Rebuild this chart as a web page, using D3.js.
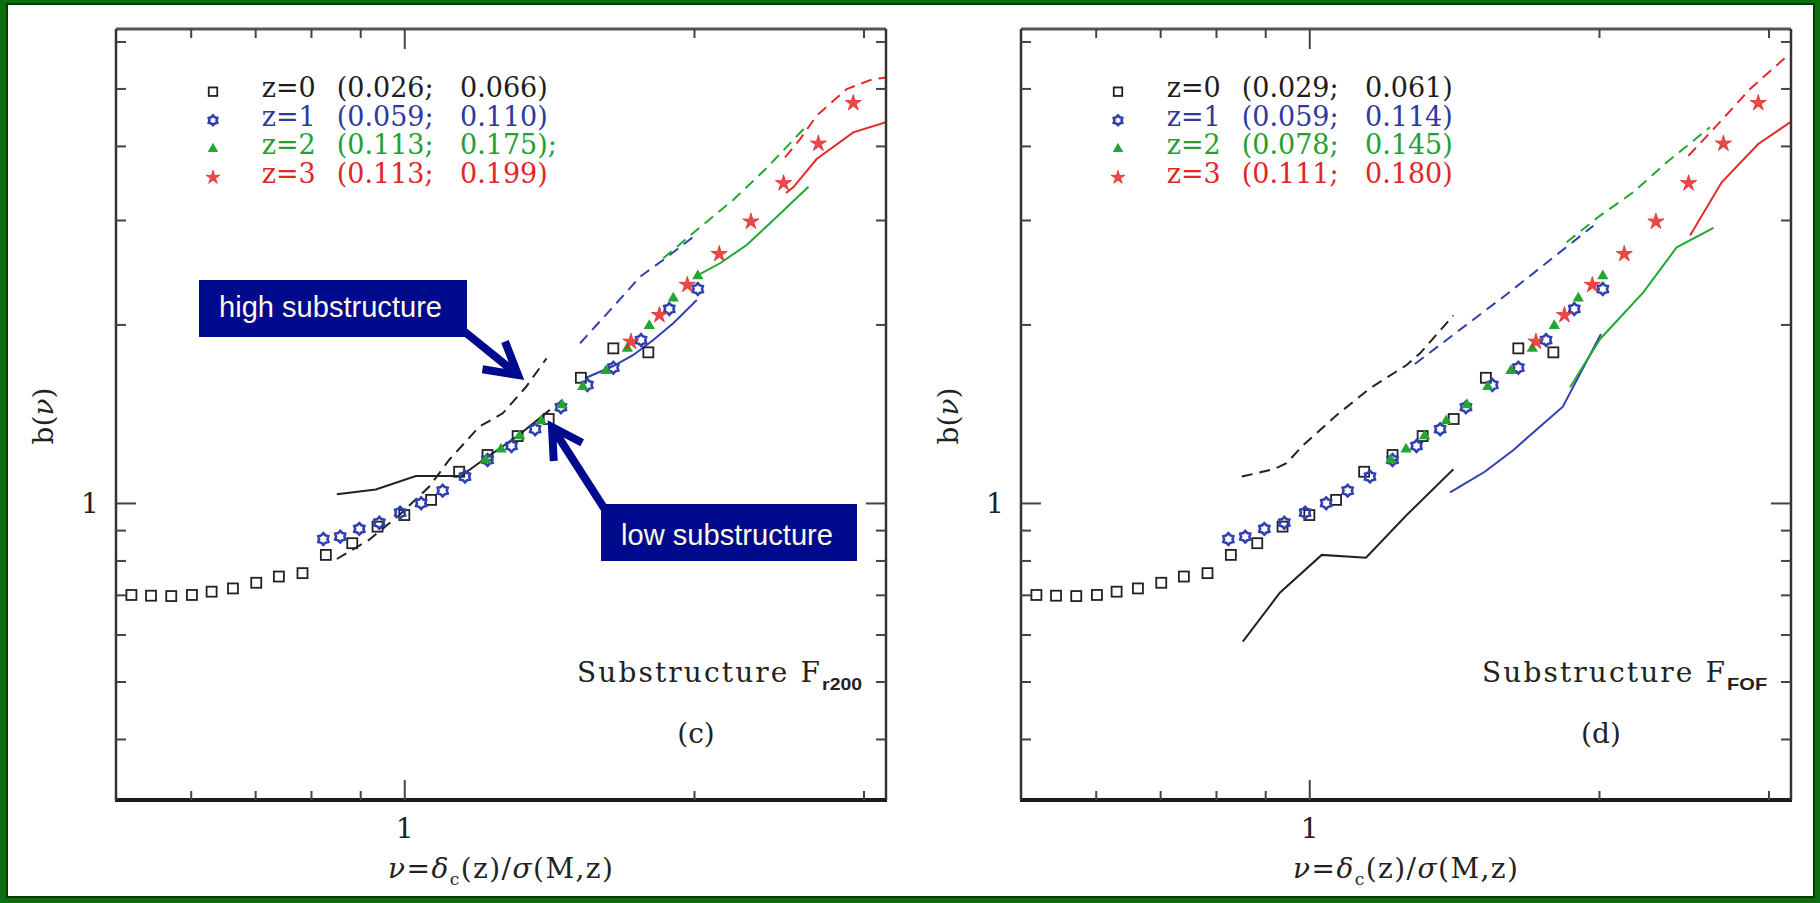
<!DOCTYPE html>
<html><head><meta charset="utf-8">
<script src="https://cdn.jsdelivr.net/npm/d3@7"></script>
<style>
html,body{margin:0;padding:0;background:#0d6e0d;}
svg{display:block;}
</style></head><body>
<svg id="fig" width="1820" height="903"></svg>
<script>
// ---- halo bias points (shared by both panels) ----
const nuZ0 = [0.520,0.545,0.572,0.601,0.630,0.663,0.701,0.740,0.783,0.828,0.882,0.937,0.999,1.065,1.139,1.219,1.310,1.411,1.524,1.647,1.791];
const bZ0  = [0.701,0.699,0.698,0.701,0.710,0.719,0.735,0.753,0.763,0.819,0.857,0.914,0.956,1.014,1.131,1.207,1.299,1.388,1.629,1.826,1.798];
const nuZ1 = [0.823,0.857,0.897,0.941,0.989,1.040,1.095,1.155,1.219,1.291,1.366,1.453,1.548,1.647,1.760,1.883,2.016];
const bZ1  = [0.871,0.879,0.906,0.928,0.965,1.001,1.051,1.110,1.184,1.250,1.334,1.453,1.584,1.694,1.886,2.128,2.299];
const nuZ2 = [1.214,1.259,1.316,1.386,1.457,1.531,1.618,1.703,1.795,1.901,2.016];
const bZ2  = [1.184,1.234,1.299,1.377,1.466,1.573,1.674,1.826,1.994,2.218,2.418];
const nuZ3 = [1.718,1.839,1.966,2.122,2.289,2.475,2.690,2.924];
const bZ3  = [1.874,2.078,2.336,2.634,2.987,3.467,4.043,4.733];

// ---- panel (c): substructure F_r200, high (dashed) / low (solid) ----
const cHighZ0Nu = [0.850,0.918,0.987,1.060,1.112,1.195,1.264,1.337,1.404];
const cHighZ0B  = [0.806,0.868,0.956,1.067,1.184,1.347,1.419,1.573,1.757];
const cLowZ0Nu  = [0.850,0.933,1.027,1.144,1.206,1.307,1.415];
const cLowZ0B   = [1.036,1.056,1.112,1.112,1.184,1.296,1.438];
const cHighZ1Nu = [1.521,1.647,1.756,1.856,2.016];
const cHighZ1B  = [1.863,2.147,2.412,2.574,2.854];
const cLowZ1Nu  = [1.539,1.647,1.728,1.812,1.901,2.011];
const cLowZ1B   = [1.626,1.705,1.780,1.886,2.013,2.203];
const cHighZ2Nu = [1.856,2.011,2.194,2.377,2.616];
const cHighZ2B  = [2.591,2.891,3.249,3.678,4.335];
const cLowZ2Nu  = [2.003,2.126,2.266,2.396,2.627];
const cLowZ2B   = [2.412,2.541,2.728,2.968,3.420];
const cHighZ3Nu = [2.484,2.575,2.679,2.879,3.068,3.162];
const cHighZ3B  = [3.834,4.116,4.506,4.998,5.196,5.226];
const cLowZ3Nu  = [2.489,2.533,2.679,2.924,3.162];
const cLowZ3B   = [3.338,3.413,3.808,4.224,4.392];

// ---- panel (d): substructure F_FOF ----
const dHighZ0Nu = [0.850,0.917,0.946,0.985,1.067,1.155,1.261,1.302,1.410];
const dHighZ0B  = [1.110,1.142,1.169,1.255,1.410,1.564,1.712,1.791,2.076];
const dLowZ0Nu  = [0.852,0.931,1.029,1.144,1.261,1.410];
const dLowZ0B   = [0.585,0.707,0.819,0.810,0.956,1.142];
const dHighZ1Nu = [1.286,1.600,1.971];
const dHighZ1B  = [1.719,2.249,2.940];
const dLowZ1Nu  = [1.399,1.520,1.628,1.832,2.007];
const dLowZ1B   = [1.044,1.131,1.231,1.456,1.931];
const dHighZ2Nu = [1.849,2.003,2.168,2.349,2.605];
const dHighZ2B  = [2.757,3.057,3.347,3.760,4.309];
const dLowZ2Nu  = [1.864,2.003,2.221,2.406,2.627];
const dLowZ2B   = [1.570,1.894,2.270,2.704,2.914];
const dHighZ3Nu = [2.474,2.647,2.867,3.151];
const dHighZ3B  = [3.858,4.335,4.998,5.726];
const dLowZ3Nu  = [2.484,2.679,2.924,3.155];
const dLowZ3B   = [2.829,3.479,4.037,4.392];

// ---- legend text ----
const zLabels  = ["z=0","z=1","z=2","z=3"];
const legendC1 = ["(0.026;","(0.059;","(0.113;","(0.113;"];
const legendC2 = ["0.066)","0.110)","0.175);","0.199)"];
const legendD1 = ["(0.029;","(0.059;","(0.078;","(0.111;"];
const legendD2 = ["0.061)","0.114)","0.145)","0.180)"];

// ---- ticks ----
const xMinorTicks = [0.6,0.7,0.8,0.9,2,3];
const xMajorTicks = [1];
const yMinorTicks = [0.4,0.5,0.6,0.7,0.8,0.9,2,3,4,5,6];
const yMajorTicks = [1];

const zColors    = ["#222222","#3140b0","#22a832","#e42a2a"];
const textColors = ["#1e1e1e","#2e3aa0","#23a033","#e22626"];
const serif = "'DejaVu Serif', serif";

const svg = d3.select("#fig");

// page frame
svg.append("rect").attr("x",0).attr("y",0).attr("width",1820).attr("height",903).attr("fill","#0d6e0d");
svg.append("rect").attr("x",7).attr("y",4).attr("width",1807).attr("height",893)
   .attr("fill","#ffffff").attr("stroke","#063a06").attr("stroke-width",2);

const PT = 29, PB = 800, PW = 770;

// star-shaped outline: n points, outer radius r, inner radius r*k
function starPath(n, r, k){
  const pts = [];
  for(let i=0;i<2*n;i++){
    const a = Math.PI/n*i - Math.PI/2;
    const rr = i%2===0 ? r : r*k;
    pts.push([rr*Math.cos(a), rr*Math.sin(a)]);
  }
  return d3.line()(pts)+"Z";
}

function drawMarker(sel, z, size){
  if(z===0){
    sel.append("rect").attr("x",-size/2).attr("y",-size/2).attr("width",size).attr("height",size)
       .attr("fill","none").attr("stroke",zColors[0]).attr("stroke-width",1.8);
  } else if(z===1){
    sel.append("path").attr("d",starPath(6,size*0.58,0.72)).attr("fill","none")
       .attr("stroke",zColors[1]).attr("stroke-width",2.6);
  } else if(z===2){
    sel.append("path").attr("d",d3.symbol(d3.symbolTriangle,size*5.6)).attr("fill",zColors[2]);
  } else {
    sel.append("path").attr("d",starPath(5,size*0.85,0.36)).attr("fill",zColors[3])
       .attr("fill-opacity",0.85).attr("stroke",zColors[3]).attr("stroke-width",0.8);
  }
}

function drawPanel(x0, lineSets, leg1, leg2, subLabel, tag){
  const x = d3.scaleLog().domain([Math.pow(10,-0.3), Math.pow(10,0.5)]).range([x0, x0+PW]);
  const y = d3.scaleLog().domain([Math.pow(10,-0.5), Math.pow(10,0.8)]).range([PB, PT]);
  const g = svg.append("g");

  const clipId = "clip"+x0;
  svg.append("clipPath").attr("id",clipId).append("rect")
     .attr("x",x0).attr("y",PT).attr("width",PW).attr("height",PB-PT);

  // model curves
  const line = d3.line().x(d=>x(d[0])).y(d=>y(d[1]));
  const lg = g.append("g").attr("clip-path",`url(#${clipId})`);
  lineSets.forEach(s=>{
    lg.append("path").datum(d3.zip(s.nu,s.b))
      .attr("d",line).attr("fill","none")
      .attr("stroke",zColors[s.z]).attr("stroke-width",2)
      .attr("stroke-dasharray", s.dash ? "11,7" : null);
  });

  // measured bias points
  const series = [[nuZ0,bZ0],[nuZ1,bZ1],[nuZ2,bZ2],[nuZ3,bZ3]];
  series.forEach(([nu,b],z)=>{
    g.append("g").selectAll("g").data(d3.zip(nu,b)).join("g")
      .attr("transform",d=>`translate(${x(d[0])},${y(d[1])})`)
      .each(function(){ drawMarker(d3.select(this), z, 10); });
  });

  // frame
  const ax = g.append("g").attr("stroke","#333");
  ax.append("line").attr("x1",x0).attr("x2",x0+PW).attr("y1",PT).attr("y2",PT).attr("stroke","#555").attr("stroke-width",3);
  ax.append("line").attr("x1",x0-1).attr("x2",x0+PW+1).attr("y1",PB).attr("y2",PB).attr("stroke","#1c1c1c").attr("stroke-width",4);
  ax.append("line").attr("x1",x0).attr("x2",x0).attr("y1",PT).attr("y2",PB).attr("stroke-width",2.5);
  ax.append("line").attr("x1",x0+PW).attr("x2",x0+PW).attr("y1",PT).attr("y2",PB).attr("stroke-width",2.5);

  // ticks, pointing inward on all four sides
  const tk = g.append("g").attr("stroke","#444").attr("stroke-width",2);
  const xt = xMinorTicks.map(v=>[v,9]).concat(xMajorTicks.map(v=>[v,20]));
  xt.forEach(([v,len])=>{
    tk.append("line").attr("x1",x(v)).attr("x2",x(v)).attr("y1",PB).attr("y2",PB-len);
    tk.append("line").attr("x1",x(v)).attr("x2",x(v)).attr("y1",PT).attr("y2",PT+len);
  });
  const yt = yMinorTicks.map(v=>[v,10]).concat(yMajorTicks.map(v=>[v,20]));
  yt.forEach(([v,len])=>{
    tk.append("line").attr("x1",x0).attr("x2",x0+len).attr("y1",y(v)).attr("y2",y(v));
    tk.append("line").attr("x1",x0+PW).attr("x2",x0+PW-len).attr("y1",y(v)).attr("y2",y(v));
  });

  // tick labels
  xMajorTicks.forEach(v=>{
    g.append("text").attr("x",x(v)).attr("y",838).attr("text-anchor","middle")
     .attr("font-family",serif).attr("font-size",28).attr("fill","#222").text(v);
  });
  yMajorTicks.forEach(v=>{
    g.append("text").attr("x",x0-26).attr("y",y(v)+10).attr("text-anchor","middle")
     .attr("font-family",serif).attr("font-size",28).attr("fill","#222").text(v);
  });

  // axis titles
  const xt2 = g.append("text").attr("x",x0+272).attr("y",878)
     .attr("font-family",serif).attr("font-size",28).attr("fill","#222")
     .attr("textLength",225).attr("lengthAdjust","spacing");
  xt2.append("tspan").attr("font-style","italic").text("ν");
  xt2.append("tspan").text("=");
  xt2.append("tspan").attr("font-style","italic").text("δ");
  xt2.append("tspan").attr("font-size",17).attr("dy",7).text("c");
  xt2.append("tspan").attr("dy",-7).text("(z)/");
  xt2.append("tspan").attr("font-style","italic").text("σ");
  xt2.append("tspan").text("(M,z)");

  const yl = g.append("text").attr("transform",`translate(${x0-63},416) rotate(-90)`)
     .attr("text-anchor","middle").attr("font-family",serif).attr("font-size",28).attr("fill","#222");
  yl.append("tspan").text("b(");
  yl.append("tspan").attr("font-style","italic").text("ν");
  yl.append("tspan").text(")");

  // legend
  zLabels.forEach((lab,i)=>{
    const yy = 91.7 + i*28.6;
    const m = g.append("g").attr("transform",`translate(${x0+97},${yy})`);
    drawMarker(m, i, 8.5);
    const t = g.append("text").attr("y",yy+5.5).attr("font-family",serif).attr("font-size",27).attr("fill",textColors[i]);
    t.append("tspan").attr("x",x0+145.7).text(lab);
    t.append("tspan").attr("x",x0+220.7).text(leg1[i]);
    t.append("tspan").attr("x",x0+344).text(leg2[i]);
  });

  // panel annotation
  const st = g.append("text").attr("x",x0+461).attr("y",682).attr("font-family",serif).attr("font-size",28).attr("fill","#222");
  st.append("tspan").attr("textLength",243).text("Substructure F");
  st.append("tspan").attr("dy",8).attr("font-family","'Liberation Sans', Arial, sans-serif").attr("font-weight","bold")
    .attr("font-size",17).attr("textLength",40).attr("lengthAdjust","spacingAndGlyphs").text(subLabel);
  g.append("text").attr("x",x0+580).attr("y",743).attr("text-anchor","middle")
   .attr("font-family",serif).attr("font-size",28).attr("fill","#222").text(tag);
  return {x,y};
}

drawPanel(116, [
  {z:0,dash:true, nu:cHighZ0Nu,b:cHighZ0B},{z:0,dash:false,nu:cLowZ0Nu,b:cLowZ0B},
  {z:1,dash:true, nu:cHighZ1Nu,b:cHighZ1B},{z:1,dash:false,nu:cLowZ1Nu,b:cLowZ1B},
  {z:2,dash:true, nu:cHighZ2Nu,b:cHighZ2B},{z:2,dash:false,nu:cLowZ2Nu,b:cLowZ2B},
  {z:3,dash:true, nu:cHighZ3Nu,b:cHighZ3B},{z:3,dash:false,nu:cLowZ3Nu,b:cLowZ3B}
], legendC1, legendC2, "r200", "(c)");

drawPanel(1021, [
  {z:0,dash:true, nu:dHighZ0Nu,b:dHighZ0B},{z:0,dash:false,nu:dLowZ0Nu,b:dLowZ0B},
  {z:1,dash:true, nu:dHighZ1Nu,b:dHighZ1B},{z:1,dash:false,nu:dLowZ1Nu,b:dLowZ1B},
  {z:2,dash:true, nu:dHighZ2Nu,b:dHighZ2B},{z:2,dash:false,nu:dLowZ2Nu,b:dLowZ2B},
  {z:3,dash:true, nu:dHighZ3Nu,b:dHighZ3B},{z:3,dash:false,nu:dLowZ3Nu,b:dLowZ3B}
], legendD1, legendD2, "FOF", "(d)");

// callouts pointing at the high / low substructure curves
const navy = "#000a8c";
function chevronArrow(tail, tip, barb){
  const ang = Math.atan2(tail[1]-tip[1], tail[0]-tip[0]);
  const b1 = [tip[0]+barb*Math.cos(ang+0.52), tip[1]+barb*Math.sin(ang+0.52)];
  const b2 = [tip[0]+barb*Math.cos(ang-0.52), tip[1]+barb*Math.sin(ang-0.52)];
  svg.append("path").attr("d",`M${tail}L${tip}M${b1}L${tip}L${b2}`)
     .attr("fill","none").attr("stroke",navy).attr("stroke-width",8)
     .attr("stroke-linejoin","miter").attr("stroke-linecap","butt");
}
chevronArrow([460,328],[518,375],36);
chevronArrow([604,508],[552,427],34);

function callout(x0,y0,w,h,label,tx,tw,ty){
  svg.append("rect").attr("x",x0).attr("y",y0).attr("width",w).attr("height",h).attr("fill",navy);
  svg.append("text").attr("x",tx).attr("y",ty).attr("font-family","'Liberation Sans', Arial, sans-serif")
     .attr("font-size",29).attr("fill","#fff9e0").attr("textLength",tw).attr("lengthAdjust","spacingAndGlyphs").text(label);
}
callout(199,280,268,57,"high substructure",219,223,317);
callout(601,504,256,57,"low substructure",621,212,545);
</script>
</body></html>
